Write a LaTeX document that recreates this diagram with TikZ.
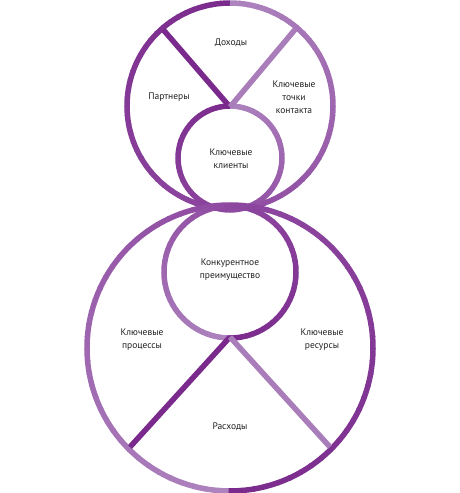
\documentclass[tikz,border=0pt]{standalone}
\usepackage{fontspec}
\setmainfont{PT Sans}
\definecolor{dk}{HTML}{7A2A8C}
\definecolor{md}{HTML}{8E48A0}
\definecolor{lt}{HTML}{AE85BF}
\definecolor{txt}{HTML}{231F20}
\newcommand\garc[7]{%
  \foreach \i in {0,...,35}{%
    \pgfmathsetmacro\aa{#4+(#5-#4)*\i/36}%
    \pgfmathsetmacro\ab{#4+(#5-#4)*(\i+1)/36+sign(#5-#4)*0.6}%
    \pgfmathtruncatemacro\pc{100-100*(\i+0.5)/36}%
    \draw[ring, #6!\pc!#7] ([shift={(\aa:#3)}]#1,#2) arc[start angle=\aa, end angle=\ab, radius=#3];
  }}
\begin{document}
\begin{tikzpicture}[x=1pt,y=1pt,
  ring/.style={line width=5.5pt, line cap=butt},
  lbl/.style={font=\fontsize{9.5}{13}\selectfont, text=txt, align=center, inner sep=0pt}]
\useasboundingbox (0,0) rectangle (460,493);
% top big circle
\garc{230}{387}{103}{90}{270}{dk}{md}
\garc{230}{387}{103}{90}{-90}{lt}{md}
% top small circle
\garc{230}{335}{52}{90}{270}{dk}{md}
\garc{230}{335}{52}{90}{-90}{lt}{md}
% bottom big circle
\garc{230}{145}{143}{90}{270}{md}{lt}
\garc{230}{145}{143}{90}{-90}{md}{dk}
% bottom small circle
\garc{230}{221}{66}{90}{270}{md}{lt}
\garc{230}{221}{66}{90}{-90}{md}{dk}
% spokes
\coordinate (tv) at (230,386);
\coordinate (tl) at (163.5,463);
\coordinate (tr) at (295.5,464);
\coordinate (bv) at (230,156);
\coordinate (bl) at (130,46);
\coordinate (br) at (330,46);
\draw[ring, dk] (tv) -- (tl);
\draw[ring, lt!85!md] (tv) -- (tr);
\draw[ring, dk] (bv) -- (bl);
\draw[ring, lt!85!md] (bv) -- (br);
% labels
\node[lbl] (doh) at (231,450) {Доходы};
\node[lbl] (part) at (169,396) {Партнеры};
\node[lbl] (toch) at (294,396) {Ключевые\\точки\\контакта};
\node[lbl] (kli) at (231,334) {Ключевые\\клиенты};
\node[lbl] (konk) at (230,223) {Конкурентное\\преимущество};
\node[lbl] (proc) at (142,153) {Ключевые\\процессы};
\node[lbl] (res) at (322,153) {Ключевые\\ресурсы};
\node[lbl] (rash) at (230,66) {Расходы};
\end{tikzpicture}
\end{document}
